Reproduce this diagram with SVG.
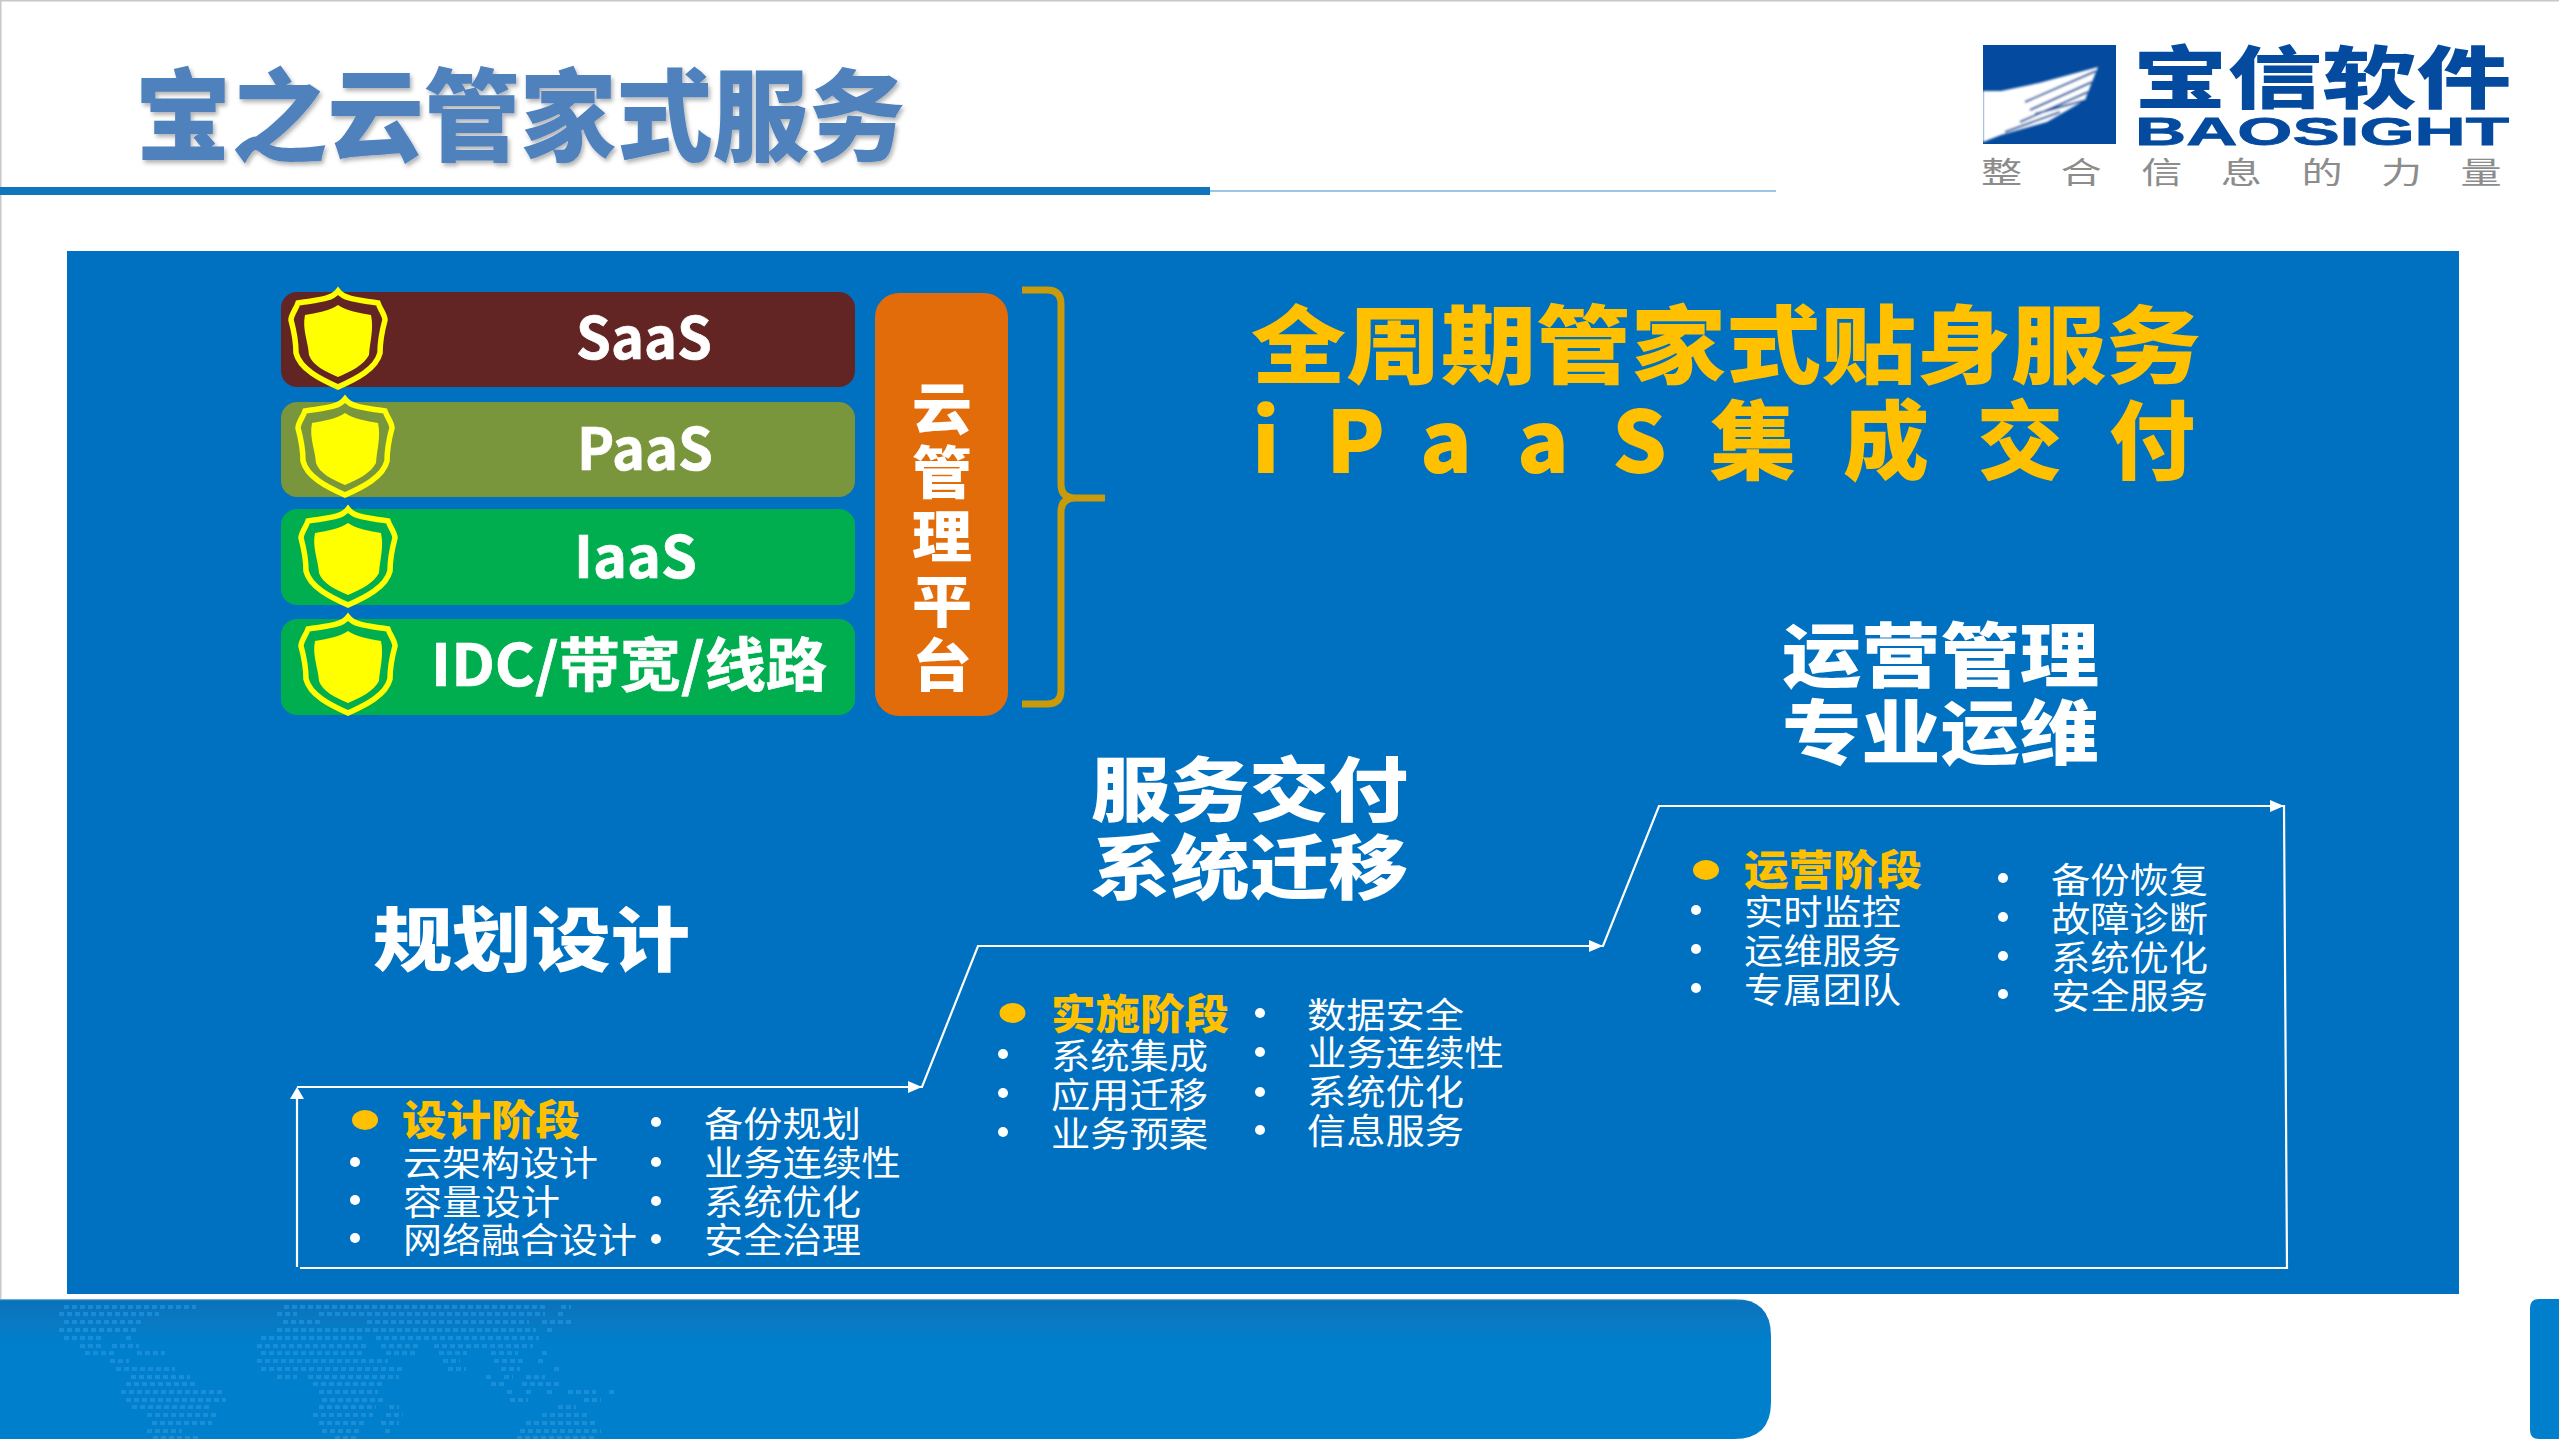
<svg xmlns="http://www.w3.org/2000/svg" width="2559" height="1439" viewBox="0 0 2559 1439">
<style>
text{font-family:"Noto Sans CJK SC","Noto Sans",sans-serif}
.b{font-weight:900}
.w{fill:#fff}
.y{fill:#ffc000}
.li{font-size:35px;fill:#fff}
.ph{font-size:41px;font-weight:900;fill:#ffc000}
.hd{font-size:70px;font-weight:900;fill:#fff}
.bar{font-size:58px;font-weight:700;fill:#fff;stroke:#fff;stroke-width:0.7}
.vt{font-size:56px;font-weight:900;fill:#fff}
.con{fill:none;stroke:#fff;stroke-width:2.2}
.ah{fill:#fff}
.sho{fill:none;stroke:#ffff00;stroke-width:5.5}
.shi{fill:#ffff00}
</style>
<defs>
<linearGradient id="band" x1="0" y1="1299" x2="0" y2="1439" gradientUnits="userSpaceOnUse">
<stop offset="0" stop-color="#8cc6ea"/><stop offset="0.012" stop-color="#0a72bb"/><stop offset="0.14" stop-color="#0a78c2"/><stop offset="0.3" stop-color="#007fcc"/><stop offset="1" stop-color="#007fcc"/>
</linearGradient>
<linearGradient id="mapg" x1="0" y1="1300" x2="0" y2="1439" gradientUnits="userSpaceOnUse">
<stop offset="0" stop-color="#1d94e2"/><stop offset="1" stop-color="#2a93d6"/>
</linearGradient>
<filter id="ts" x="-5%" y="-10%" width="110%" height="125%"><feDropShadow dx="2" dy="3" stdDeviation="2" flood-color="#000" flood-opacity="0.3"/></filter>
<filter id="soft" x="-5%" y="-5%" width="110%" height="110%"><feGaussianBlur stdDeviation="1"/></filter>
<g id="shield">
<path class="sho" d="M48 2C55 11 70 11 88 14C90 20 95 26 95 31C92 42 90 52 90 64C86 80 66 90 48 98C30 90 10 80 6 64C6 52 4 42 1 31C1 26 6 20 8 14C26 11 41 11 48 2Z"/>
<path class="shi" d="M48 16C56 22 70 24 81 26C84 40 80 52 79 66C74 76 60 83 48 88C36 83 22 76 19 66C18 52 12 40 15 26C26 24 40 22 48 16Z"/>
</g>
</defs>
<rect width="2559" height="1439" fill="#fff"/>
<rect x="0" y="0" width="2559" height="1.5" fill="#c8c8c8"/>
<rect x="0" y="0" width="1.5" height="1299" fill="#c8c8c8"/>

<g id="title">
<text x="135" y="153" font-size="100" font-weight="900" fill="#4f81bd" filter="url(#ts)" textLength="770" lengthAdjust="spacingAndGlyphs">宝之云管家式服务</text>
<rect x="0" y="187" width="1210" height="8" fill="#0f76bb"/>
<rect x="1210" y="190" width="566" height="2" fill="#9cc6e6"/>
</g>

<g id="logo">
<rect x="1983" y="45" width="133" height="99" fill="#044a9e"/>
<g filter="url(#soft)">
<path d="M1983 91L2001 91L2039 83L2098 67L2092 82L2085 100L2047 122L2001 135L1983 142Z" fill="#fff"/>
<path d="M2025 102L2096 71M2030 110L2092 82M2020 122L2088 92M2035 114L2086 100M2005 132L2060 112" stroke="#044a9e" stroke-width="2" fill="none"/>
</g>
<text x="2133" y="103" font-size="68" font-weight="900" fill="#044a9e" textLength="378" lengthAdjust="spacingAndGlyphs">宝信软件</text>
<text x="2135" y="145" font-size="39" font-weight="700" fill="#044a9e" stroke="#044a9e" stroke-width="0.8" style="font-family:'Liberation Sans',sans-serif" textLength="374" lengthAdjust="spacingAndGlyphs">BAOSIGHT</text>
<text transform="translate(1981 183) scale(1.37 1)" font-size="30" fill="#8c8c8c" x="0 29 58 87 117 146 175 204 234 263 292 321 350" y="0">整 合 信 息 的 力 量</text>
</g>

<rect id="panel" x="67" y="251" width="2392" height="1043" fill="#0070c0"/>

<g id="footer">
<path d="M0 1299H1734Q1771 1299 1771 1336V1402Q1771 1439 1734 1439H0Z" fill="url(#band)"/>
<path d="M2559 1299H2539Q2530 1299 2530 1308V1430Q2530 1439 2539 1439H2559Z" fill="#007fcc"/>
<path fill="none" stroke="url(#mapg)" stroke-width="4" stroke-dasharray="5 3" opacity="0.72" d="M64 1307H196M284 1307H548M561 1307H571M59 1314H159M277 1314H297M319 1314H545M558 1314H564M64 1322H143M283 1322H322M367 1322H529M542 1322H571M59 1330H139M277 1330H536M547 1330H555M64 1338H102M126 1338H134M261 1338H364M376 1338H539M80 1346H102M112 1346H139M257 1346H369M381 1346H420M434 1346H533M85 1353H114M137 1353H165M261 1353H365M386 1353H415M439 1353H467M491 1353H518M542 1353H550M110 1361H129M257 1361H388M443 1361H460M494 1361H523M538 1361H545M116 1369H175M261 1369H403M448 1369H466M501 1369H520M554 1369H560M131 1377H190M277 1377H297M308 1377H399M486 1377H494M504 1377H513M526 1377H545M126 1384H198M313 1384H383M491 1384H507M522 1384H560M121 1392H223M319 1392H378M507 1392H513M526 1392H533M547 1392H554M568 1392H596M609 1392H617M126 1400H226M322 1400H383M510 1400H528M584 1400H601M132 1407H210M319 1407H376M389 1407H399M558 1407H576M147 1415H216M313 1415H373M386 1415H403M542 1415H590M152 1423H212M319 1423H367M381 1423H399M526 1423H596M147 1431H182M322 1431H362M385 1431H392M520 1431H601M153 1438H201M335 1438H357M517 1438H596"/>
</g>

<g id="connectors">
<path class="con" d="M297 1267V1095M297 1087H915L922 1087L978 946H1596L1603 946L1659 806H2277L2284 806L2287 1268H300"/>
<path class="ah" d="M297 1087L304 1099H290Z"/>
<path class="ah" d="M922 1087L908 1081V1093Z"/>
<path class="ah" d="M1603 946L1589 940V952Z"/>
<path class="ah" d="M2284 806L2270 800V812Z"/>
</g>

<g id="saas">
<rect x="281" y="292" width="574" height="95" rx="16" fill="#632523"/>
<use href="#shield" x="290" y="289"/>
<text class="bar" x="576" y="359" textLength="136" lengthAdjust="spacingAndGlyphs">SaaS</text>
</g>
<g id="paas">
<rect x="281" y="402" width="574" height="95" rx="16" fill="#7a963c"/>
<use href="#shield" x="297" y="397"/>
<text class="bar" x="577" y="470" textLength="136" lengthAdjust="spacingAndGlyphs">PaaS</text>
</g>
<g id="iaas">
<rect x="281" y="509" width="574" height="96" rx="16" fill="#00ae50"/>
<use href="#shield" x="300" y="507"/>
<text class="bar" x="574" y="578" textLength="123" lengthAdjust="spacingAndGlyphs">IaaS</text>
</g>
<g id="idc">
<rect x="281" y="619" width="574" height="96" rx="16" fill="#00ae50"/>
<use href="#shield" x="300" y="615"/>
<text class="bar" x="431" y="686" textLength="396" lengthAdjust="spacingAndGlyphs">IDC/带宽/线路</text>
</g>

<g id="cmp">
<rect x="875" y="293" width="133" height="423" rx="24" fill="#e36c0a"/>
<text class="vt" x="912" y="429" textLength="60" lengthAdjust="spacingAndGlyphs">云</text>
<text class="vt" x="912" y="493" textLength="60" lengthAdjust="spacingAndGlyphs">管</text>
<text class="vt" x="912" y="557" textLength="60" lengthAdjust="spacingAndGlyphs">理</text>
<text class="vt" x="912" y="622" textLength="60" lengthAdjust="spacingAndGlyphs">平</text>
<text class="vt" x="912" y="686" textLength="60" lengthAdjust="spacingAndGlyphs">台</text>
</g>
<path id="brace" d="M1022 290H1047Q1061 290 1061 304V484Q1061 498 1075 498H1105H1075Q1061 498 1061 512V690Q1061 704 1047 704H1022" fill="none" stroke="#c99b0b" stroke-width="7"/>

<g id="headline">
<text class="y b" x="1251" y="377" font-size="85" textLength="950" lengthAdjust="spacingAndGlyphs">全周期管家式贴身服务</text>
<text class="y b" y="473" font-size="86" x="1252 1300 1326 1380 1420 1480 1517 1580 1612 1680 1710 1810 1843 1950 1977 2080 2109">i P a a S 集 成 交 付</text>
</g>

<g id="stage-plan">
<text class="hd" x="373" y="966" textLength="317" lengthAdjust="spacingAndGlyphs">规划设计</text>
<ellipse class="y" cx="365" cy="1120" rx="13" ry="10"/>
<text class="ph" x="402" y="1135" textLength="178" lengthAdjust="spacingAndGlyphs">设计阶段</text>
<circle class="w" cx="355" cy="1162" r="5"/><text class="li" x="403" y="1176" textLength="195" lengthAdjust="spacingAndGlyphs">云架构设计</text>
<circle class="w" cx="355" cy="1200" r="5"/><text class="li" x="403" y="1215" textLength="157" lengthAdjust="spacingAndGlyphs">容量设计</text>
<circle class="w" cx="355" cy="1238" r="5"/><text class="li" x="403" y="1253" textLength="234" lengthAdjust="spacingAndGlyphs">网络融合设计</text>
<circle class="w" cx="656" cy="1122" r="5"/><text class="li" x="704" y="1137" textLength="157" lengthAdjust="spacingAndGlyphs">备份规划</text>
<circle class="w" cx="656" cy="1162" r="5"/><text class="li" x="704" y="1176" textLength="197" lengthAdjust="spacingAndGlyphs">业务连续性</text>
<circle class="w" cx="656" cy="1201" r="5"/><text class="li" x="704" y="1215" textLength="157" lengthAdjust="spacingAndGlyphs">系统优化</text>
<circle class="w" cx="656" cy="1239" r="5"/><text class="li" x="704" y="1253" textLength="157" lengthAdjust="spacingAndGlyphs">安全治理</text>
</g>

<g id="stage-delivery">
<text class="hd" x="1091" y="816" textLength="317" lengthAdjust="spacingAndGlyphs">服务交付</text>
<text class="hd" x="1091" y="894" textLength="317" lengthAdjust="spacingAndGlyphs">系统迁移</text>
<ellipse class="y" cx="1012.500" cy="1013" rx="13" ry="10"/>
<text class="ph" x="1051" y="1029" textLength="178" lengthAdjust="spacingAndGlyphs">实施阶段</text>
<circle class="w" cx="1003" cy="1054" r="5"/><text class="li" x="1051" y="1069" textLength="157" lengthAdjust="spacingAndGlyphs">系统集成</text>
<circle class="w" cx="1003" cy="1093" r="5"/><text class="li" x="1051" y="1108" textLength="157" lengthAdjust="spacingAndGlyphs">应用迁移</text>
<circle class="w" cx="1003" cy="1132" r="5"/><text class="li" x="1051" y="1147" textLength="157" lengthAdjust="spacingAndGlyphs">业务预案</text>
<circle class="w" cx="1260" cy="1013" r="5"/><text class="li" x="1307" y="1028" textLength="157" lengthAdjust="spacingAndGlyphs">数据安全</text>
<circle class="w" cx="1260" cy="1052" r="5"/><text class="li" x="1307" y="1066" textLength="197" lengthAdjust="spacingAndGlyphs">业务连续性</text>
<circle class="w" cx="1260" cy="1092" r="5"/><text class="li" x="1307" y="1105" textLength="157" lengthAdjust="spacingAndGlyphs">系统优化</text>
<circle class="w" cx="1260" cy="1130" r="5"/><text class="li" x="1307" y="1144" textLength="157" lengthAdjust="spacingAndGlyphs">信息服务</text>
</g>

<g id="stage-ops">
<text class="hd" x="1782" y="682" textLength="317" lengthAdjust="spacingAndGlyphs">运营管理</text>
<text class="hd" x="1782" y="759" textLength="317" lengthAdjust="spacingAndGlyphs">专业运维</text>
<ellipse class="y" cx="1706" cy="870" rx="13" ry="10"/>
<text class="ph" x="1744" y="885" textLength="178" lengthAdjust="spacingAndGlyphs">运营阶段</text>
<circle class="w" cx="1696" cy="910" r="5"/><text class="li" x="1744" y="925" textLength="157" lengthAdjust="spacingAndGlyphs">实时监控</text>
<circle class="w" cx="1696" cy="949" r="5"/><text class="li" x="1744" y="964" textLength="157" lengthAdjust="spacingAndGlyphs">运维服务</text>
<circle class="w" cx="1696" cy="988" r="5"/><text class="li" x="1744" y="1003" textLength="157" lengthAdjust="spacingAndGlyphs">专属团队</text>
<circle class="w" cx="2003" cy="878" r="5"/><text class="li" x="2051" y="893" textLength="157" lengthAdjust="spacingAndGlyphs">备份恢复</text>
<circle class="w" cx="2003" cy="917" r="5"/><text class="li" x="2051" y="932" textLength="157" lengthAdjust="spacingAndGlyphs">故障诊断</text>
<circle class="w" cx="2003" cy="956" r="5"/><text class="li" x="2051" y="971" textLength="157" lengthAdjust="spacingAndGlyphs">系统优化</text>
<circle class="w" cx="2003" cy="994" r="5"/><text class="li" x="2051" y="1009" textLength="157" lengthAdjust="spacingAndGlyphs">安全服务</text>
</g>
</svg>
